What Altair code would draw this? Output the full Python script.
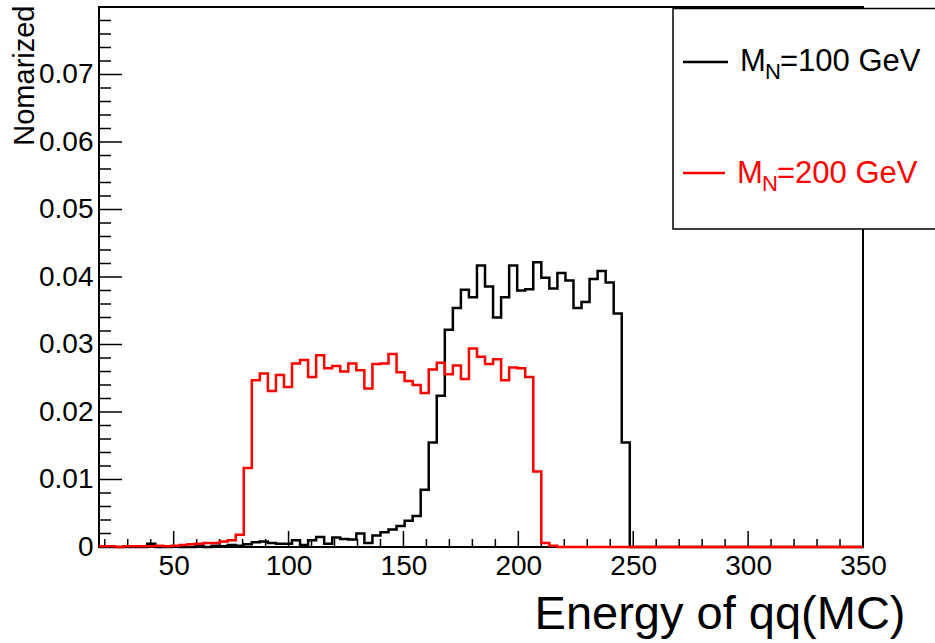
import altair as alt
import pandas as pd
import numpy as np

# ---------------- data ----------------
x_min = 17.5
x_max = 350.0
bin_width = 3.5

# M_N = 100 GeV (black), bins from 17.5 to 350 in steps of 3.5
black_values = (
    [0, 0, 0, 0, 0, 0, 0.0005, 0, 0, 0.0001]
    + [0, 0, 0.0001, 0, 0.0002, 0.0001, 0.0003]
    + [0.0002, 0.0004, 0.0007, 0.0008, 0.0006, 0.0005, 0.0005, 0.0010, 0.0003, 0.0010]
    + [0.0015, 0.0005, 0.0014, 0.0012, 0.0011, 0.0020, 0.0006, 0.0017, 0.0022, 0.0026,
       0.0031, 0.0039, 0.0046]
    + [0.0085, 0.0155, 0.0224, 0.0322, 0.0354, 0.0381, 0.0370, 0.0417, 0.0386, 0.0340,
       0.0370, 0.0417, 0.0380, 0.0382, 0.0422, 0.0399, 0.0383, 0.0406, 0.0395, 0.0354,
       0.0363, 0.0397, 0.0409, 0.0392, 0.0346, 0.0155]
    + [0] * 29
)

# M_N = 200 GeV (red)
red_values = (
    [0.0001, 0.0001, 0, 0.0001, 0.0001, 0.0001, 0.0001, 0.0002, 0.0001, 0.0002]
    + [0.0003, 0.0004, 0.0005, 0.0006, 0.0006, 0.0008, 0.0010, 0.0018]
    + [0.0117, 0.0247, 0.0257, 0.0231, 0.0255, 0.0237, 0.0272, 0.0277, 0.0252, 0.0284]
    + [0.0265, 0.0268, 0.0260, 0.0272, 0.0262, 0.0235, 0.0271, 0.0272, 0.0286, 0.0259]
    + [0.0246, 0.0240, 0.0228, 0.0263, 0.0273, 0.0256, 0.0269, 0.0249, 0.0294, 0.0282]
    + [0.0271, 0.0278, 0.0247, 0.0266, 0.0265, 0.0252, 0.0112, 0.0006, 0.0002, 0]
    + [0] * 37
)

masses = ["100", "200"]
series_colors = ["#000000", "#ff0000"]

y_major = [0, 0.01, 0.02, 0.03, 0.04, 0.05, 0.06, 0.07]
x_major = [50, 100, 150, 200, 250, 300, 350]

x_title = "Energy of qq(MC)"
y_title = "Nomarized"

# ---------------- tables ----------------
n_bins = len(black_values)
edges = x_min + bin_width * np.arange(n_bins + 1)


def hist_df(values):
    return pd.DataFrame({"x": edges, "y": list(values) + [values[-1]]})


black_df = hist_df(black_values)
red_df = hist_df(red_values)

y_minor = [round(0.002 * i, 4) for i in range(1, 40) if i % 5 != 0]
x_minor = [v for v in range(20, 350, 10) if v % 50 != 0]

FONT = "Liberation Sans"

xs = alt.Scale(domain=[x_min, x_max], nice=False, zero=False)
ys = alt.Scale(domain=[0, 0.08], nice=False, zero=False)

x_axis = alt.Axis(
    values=x_major, format="d", grid=False, domain=False, ticks=False, tickSize=0,
    labelFont=FONT, labelFontSize=28, labelColor="black", labelPadding=5,
    labelFlush=False, labelOverlap=False, labelBaseline="top",
    title=x_title, titleFont=FONT, titleFontSize=47, titleFontWeight="normal",
    titleColor="black", titleX=806, titleY=81, titleAlign="right",
    titleBaseline="alphabetic", titleAnchor="end",
)
y_axis = alt.Axis(
    values=y_major, format=".2~f", grid=False, domain=False, ticks=False, tickSize=0,
    labelFont=FONT, labelFontSize=28, labelColor="black", labelPadding=6,
    labelFlush=False, labelOverlap=False,
    title=y_title, titleFont=FONT, titleFontSize=29, titleFontWeight="normal",
    titleColor="black", titleAngle=270, titleX=-66, titleY=-2, titleAlign="right",
    titleBaseline="alphabetic", titleAnchor="end",
)

X = alt.X("x:Q", scale=xs, axis=x_axis)
Y = alt.Y("y:Q", scale=ys, axis=y_axis)

black_line = alt.Chart(black_df).mark_line(
    interpolate="step-after", color=series_colors[0], strokeWidth=2.5
).encode(x=X, y=Y)
red_line = alt.Chart(red_df).mark_line(
    interpolate="step-after", color=series_colors[1], strokeWidth=2.5
).encode(x=X, y=Y)

# inward ticks (ROOT style)
y_major_ticks = alt.Chart(pd.DataFrame({"y": y_major})).mark_rule(
    color="black", strokeWidth=1.5
).encode(y=Y, x=alt.value(0), x2=alt.value(23))
y_minor_ticks = alt.Chart(pd.DataFrame({"y": y_minor})).mark_rule(
    color="black", strokeWidth=1.5
).encode(y=Y, x=alt.value(0), x2=alt.value(12))
x_major_ticks = alt.Chart(pd.DataFrame({"x": x_major})).mark_rule(
    color="black", strokeWidth=1.5
).encode(x=X, y=alt.value(540), y2=alt.value(524))
x_minor_ticks = alt.Chart(pd.DataFrame({"x": x_minor})).mark_rule(
    color="black", strokeWidth=1.5
).encode(x=X, y=alt.value(540), y2=alt.value(532))

# legend box
legend_df = pd.DataFrame({"mass": masses, "color": series_colors})
legend_box = alt.Chart(legend_df.head(1)).mark_rect(
    fill="white", stroke="black", strokeWidth=1.5
).encode(x=alt.value(574), x2=alt.value(960), y=alt.value(1.5), y2=alt.value(222))

legend_layers = []
line_y = [55, 166]
base_y = [64, 176]
line_end = [629, 626]
m_x = [641, 638]
for i, (mass, col) in enumerate(zip(masses, series_colors)):
    row = legend_df.iloc[[i]]
    legend_layers.append(
        alt.Chart(row).mark_rule(color=col, strokeWidth=2.5).encode(
            x=alt.value(584), x2=alt.value(line_end[i]), y=alt.value(line_y[i])
        )
    )
    legend_layers.append(
        alt.Chart(row).mark_text(
            font=FONT, fontSize=31, color=col, align="left", baseline="alphabetic"
        ).encode(x=alt.value(m_x[i]), y=alt.value(base_y[i]), text=alt.value("M"))
    )
    legend_layers.append(
        alt.Chart(row).mark_text(
            font=FONT, fontSize=22, color=col, align="left", baseline="alphabetic"
        ).encode(x=alt.value(m_x[i] + 25), y=alt.value(base_y[i] + 8), text=alt.value("N"))
    )
    legend_layers.append(
        alt.Chart(row).mark_text(
            font=FONT, fontSize=31, color=col, align="left", baseline="alphabetic"
        ).encode(x=alt.value(m_x[i] + 40), y=alt.value(base_y[i]),
                 text=alt.value(f"={mass} GeV"))
    )

chart = alt.layer(
    y_minor_ticks, y_major_ticks, x_minor_ticks, x_major_ticks,
    black_line, red_line, legend_box, *legend_layers
).properties(
    width=764,
    height=540,
    padding={"left": 99, "top": 7, "right": 72, "bottom": 96},
    autosize=alt.AutoSizeParams(type="none"),
    background="white",
).configure_view(
    stroke="black", strokeWidth=2
)

chart.save("out.html", embed_options={"renderer": "svg", "actions": False})
